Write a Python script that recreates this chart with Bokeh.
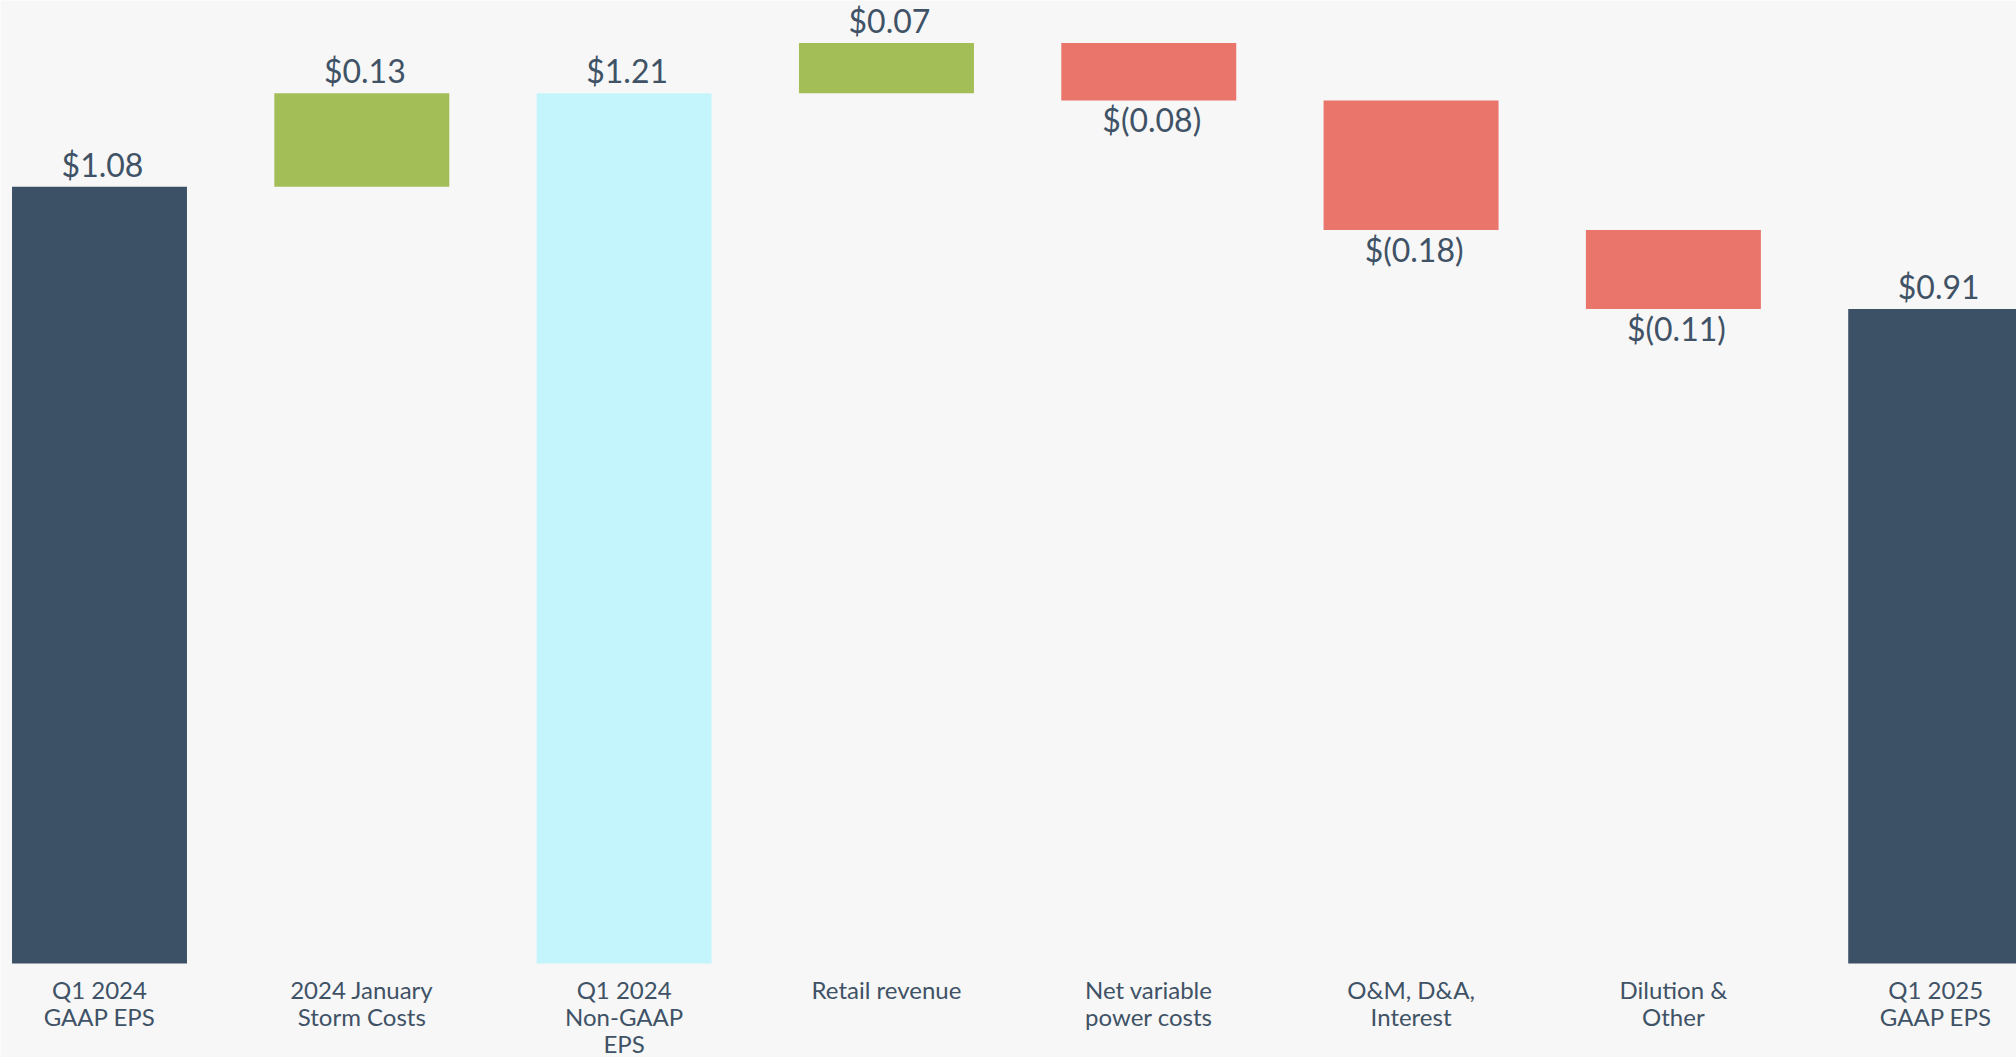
from bokeh.plotting import figure
from bokeh.models import ColumnDataSource
from bokeh.core.properties import value
from bokeh.embed import file_html
from bokeh.resources import INLINE

categories = ["Q1 2024\nGAAP EPS", "2024 January\nStorm Costs", "Q1 2024\nNon-GAAP\nEPS",
              "Retail revenue", "Net variable\npower costs", "O&M, D&A,\nInterest",
              "Dilution &\nOther", "Q1 2025\nGAAP EPS"]
values = [1.08, 0.13, 1.21, 0.07, -0.08, -0.18, -0.11, 0.91]
kinds = ["total", "delta", "subtotal", "delta", "delta", "delta", "delta", "total"]

COL = {"total": "#3d5166", "subtotal": "#c4f4fc", "up": "#a3bd57", "down": "#ea756a"}
TXT = "#3f5266"
FONT = "Lato"

xs, bottoms, tops, colors, labels = [], [], [], [], []
running = 0.0
for i, (v, k) in enumerate(zip(values, kinds)):
    xs.append(i)
    if k in ("total", "subtotal"):
        bottoms.append(0.0)
        tops.append(v)
        running = v
        colors.append(COL[k])
    else:
        start = running
        running = round(running + v, 4)
        bottoms.append(min(start, running))
        tops.append(max(start, running))
        colors.append(COL["up"] if v >= 0 else COL["down"])
    labels.append("$%.2f" % v if v >= 0 else "$(%.2f)" % abs(v))

src = ColumnDataSource(dict(x=xs, bottom=bottoms, top=tops, color=colors))

p = figure(width=2016, height=1057, x_range=(-0.3774, 7.308), y_range=(-0.1307, 1.339),
           output_backend="svg", toolbar_location=None, min_border=0,
           x_axis_type=None, y_axis_type=None)
p.background_fill_color = "#f7f7f7"
p.border_fill_color = "#f7f7f7"
p.outline_line_color = None
p.grid.visible = False

p.vbar(x="x", bottom="bottom", top="top", width=0.667, fill_color="color", line_color=None, source=src)

# value labels
up_x, up_y, up_t, dn_x, dn_y, dn_t = [], [], [], [], [], []
for x, b, t, v, lab in zip(xs, bottoms, tops, values, labels):
    if v >= 0:
        up_x.append(x); up_y.append(t); up_t.append(lab)
    else:
        dn_x.append(x); dn_y.append(b); dn_t.append(lab)

p.text(x=up_x, y=up_y, text=up_t, text_align="center", text_baseline="bottom", y_offset=-3,
       x_offset=3, text_font=value(FONT), text_font_size="32px", text_color=TXT)
p.text(x=dn_x, y=dn_y, text=dn_t, text_align="center", text_baseline="top", y_offset=0,
       x_offset=3, text_font=value(FONT), text_font_size="32px", text_color=TXT)

# category labels
p.text(x=xs, y=[0] * len(xs), text=categories, text_align="center", text_baseline="top",
       y_offset=11, text_font=value(FONT), text_font_size="24px", text_color=TXT,
       text_line_height=0.94)

open("out.html", "w").write(file_html(p, INLINE))
